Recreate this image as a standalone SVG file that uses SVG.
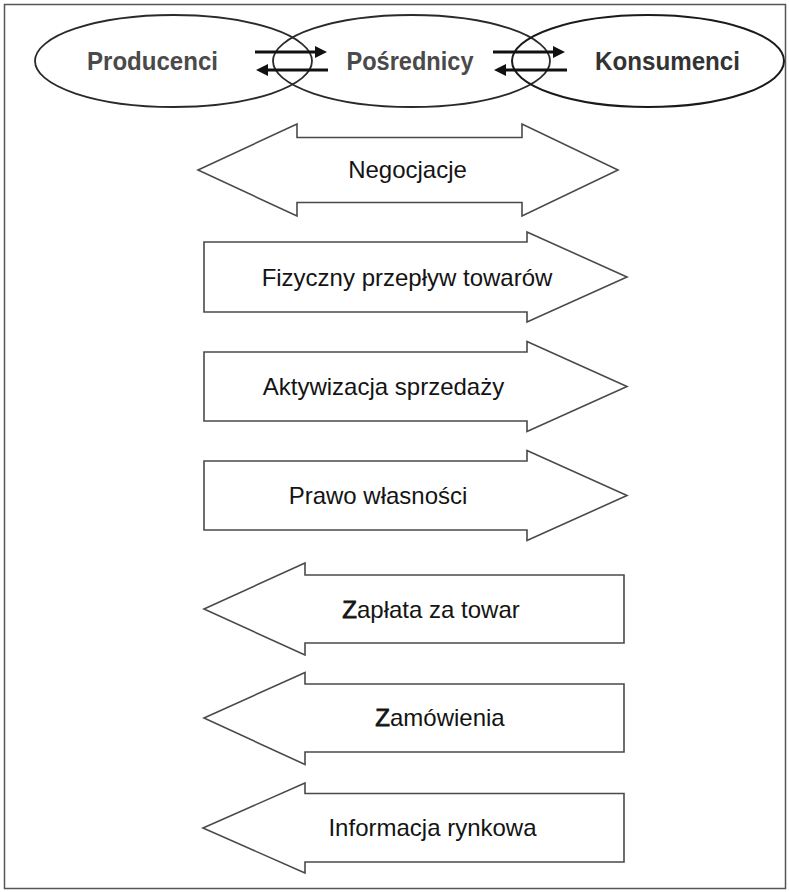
<svg xmlns="http://www.w3.org/2000/svg" width="789" height="892" viewBox="0 0 789 892">
  <style>
    .frame { fill: #ffffff; stroke: #555555; stroke-width: 1.5; }
    .party { fill: none; stroke: #2a2a2a; stroke-width: 1.8; }
    .party-label { font-family: "Liberation Sans", Arial, sans-serif; font-size: 25px; font-weight: bold; fill: #4a4a4a; text-anchor: middle; }
    .flow { fill: #ffffff; stroke: #4a4a4a; stroke-width: 1.6; stroke-linejoin: miter; }
    .flow-label { font-family: "Liberation Sans", Arial, sans-serif; font-size: 24px; fill: #141414; text-anchor: middle; }
    .heavy { stroke: #141414; stroke-width: 0.8; }
    .link { stroke: #111111; stroke-width: 3; fill: none; }
  </style>
  <defs>
    <marker id="head" markerUnits="userSpaceOnUse" markerWidth="12" markerHeight="12" viewBox="0 0 12 12" refX="2" refY="6" orient="auto">
      <path d="M0,0 L12,6 L0,12 Z" fill="#111111"/>
    </marker>
  </defs>

  <rect class="frame" x="4.5" y="4.5" width="781" height="884"/>

  <!-- channel members -->
  <g id="producenci">
    <ellipse class="party" cx="173.5" cy="61" rx="138.5" ry="46"/>
    <text class="party-label" x="152.5" y="70" textLength="131" lengthAdjust="spacingAndGlyphs">Producenci</text>
  </g>
  <g id="posrednicy">
    <ellipse class="party" cx="411.5" cy="61" rx="138.5" ry="46"/>
    <text class="party-label" x="410" y="70" textLength="127" lengthAdjust="spacingAndGlyphs">Pośrednicy</text>
  </g>
  <g id="konsumenci">
    <ellipse class="party" cx="648" cy="61" rx="136" ry="46" style="stroke:#1a1a1a;stroke-width:2"/>
    <text class="party-label" x="667.5" y="70" textLength="145" lengthAdjust="spacingAndGlyphs" style="fill:#333333">Konsumenci</text>
  </g>

  <!-- two-way exchange between neighbouring members -->
  <g id="connectors">
    <line class="link" x1="255" y1="52" x2="317" y2="52" marker-end="url(#head)"/>
    <line class="link" x1="328" y1="70" x2="266" y2="70" marker-end="url(#head)"/>
    <line class="link" x1="493" y1="52" x2="555" y2="52" marker-end="url(#head)"/>
    <line class="link" x1="567" y1="70" x2="504" y2="70" marker-end="url(#head)"/>
  </g>

  <!-- flows in the distribution channel -->
  <g id="negocjacje">
    <path class="flow" d="M198,170 L297,124 L297,137.5 L522,137.5 L522,124 L618,170 L522,216 L522,202.5 L297,202.5 L297,216 Z"/>
    <text class="flow-label" x="407.5" y="177.5">Negocjacje</text>
  </g>
  <g id="fizyczny-przeplyw">
    <path class="flow" d="M204,242 L527,242 L527,232 L627,277 L527,322 L527,312 L204,312 Z"/>
    <text class="flow-label" x="407" y="285.5">Fizyczny przepływ towarów</text>
  </g>
  <g id="aktywizacja-sprzedazy">
    <path class="flow" d="M204,352 L527,352 L527,341.5 L627,386.5 L527,431.5 L527,421 L204,421 Z"/>
    <text class="flow-label" x="383.5" y="395">Aktywizacja sprzedaży</text>
  </g>
  <g id="prawo-wlasnosci">
    <path class="flow" d="M204,461 L527,461 L527,450.5 L627,495.5 L527,540.5 L527,530 L204,530 Z"/>
    <text class="flow-label" x="378" y="504">Prawo własności</text>
  </g>
  <g id="zaplata">
    <path class="flow" d="M204,609 L305,563 L305,575 L624,575 L624,643 L305,643 L305,655 Z"/>
    <text class="flow-label" x="431" y="617.5"><tspan class="heavy">Z</tspan>apłata za towar</text>
  </g>
  <g id="zamowienia">
    <path class="flow" d="M204,718 L305,672.5 L305,684 L624,684 L624,752 L305,752 L305,764.5 Z"/>
    <text class="flow-label" x="440" y="726"><tspan class="heavy">Z</tspan>amówienia</text>
  </g>
  <g id="informacja-rynkowa">
    <path class="flow" d="M203,828 L305,783 L305,793.5 L624,793.5 L624,862 L305,862 L305,873 Z"/>
    <text class="flow-label" x="432.5" y="836">Informacja rynkowa</text>
  </g>
</svg>
